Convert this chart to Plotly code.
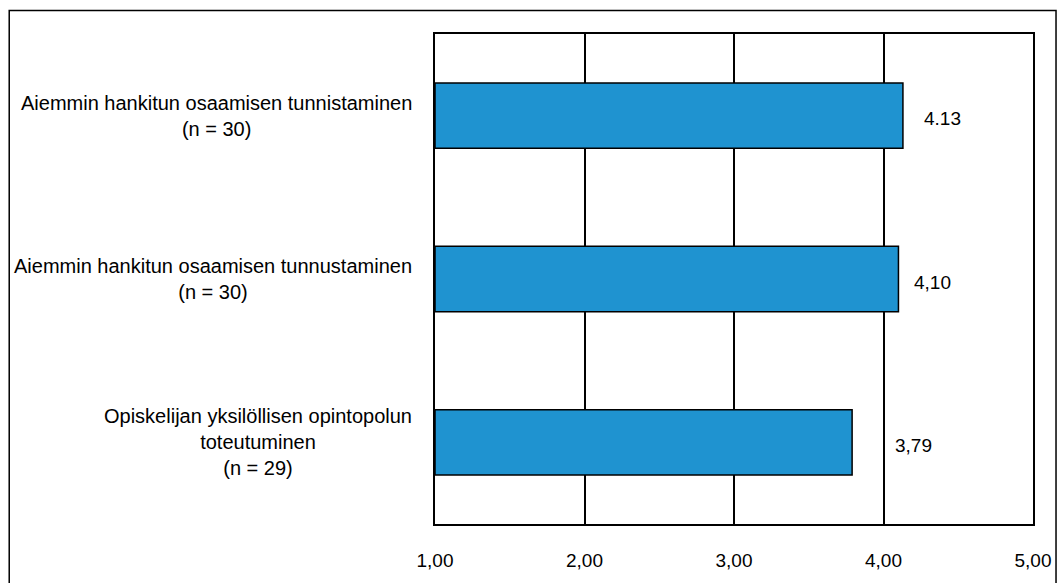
import plotly.graph_objects as go

# Survey items (top to bottom) and their mean scores
categories = [
    "Aiemmin hankitun osaamisen tunnistaminen<br>(n = 30)",
    "Aiemmin hankitun osaamisen tunnustaminen<br>(n = 30)",
    "Opiskelijan yksilöllisen opintopolun<br>toteutuminen<br>(n = 29)",
]
means = [4.13, 4.10, 3.79]
value_labels = ["4.13", "4,10", "3,79"]
label_offsets = [19, 14, 41]  # pixel gap between bar end and its label

tick_vals = [1, 2, 3, 4, 5]
tick_text = ["1,00", "2,00", "3,00", "4,00", "5,00"]

FONT = "Liberation Sans, Arial, sans-serif"
keys = ["c0", "c1", "c2"]

fig = go.Figure(
    go.Bar(
        x=[m - 1 for m in means],
        base=1,
        y=keys,
        orientation="h",
        width=0.4,
        marker=dict(color="#1f93d0", line=dict(color="black", width=1.5)),
        hoverinfo="skip",
    )
)

annotations = []
for key, cat in zip(keys, categories):
    annotations.append(dict(
        x=0, xref="paper", y=key, yref="y",
        text=cat, showarrow=False, xanchor="right", yanchor="middle",
        align="center", xshift=-21,
        font=dict(family=FONT, size=20, color="black"),
    ))
for key, m, lab, off in zip(keys, means, value_labels, label_offsets):
    annotations.append(dict(
        x=m, xref="x", y=key, yref="y",
        text=lab, showarrow=False, xanchor="left", yanchor="middle",
        xshift=off, yshift=-3,
        font=dict(family=FONT, size=19, color="black"),
    ))

fig.update_layout(
    width=1064, height=583,
    margin=dict(l=435, r=31, t=34, b=47),
    paper_bgcolor="white", plot_bgcolor="white",
    showlegend=False,
    annotations=annotations,
    shapes=[dict(
        type="rect", xref="paper", yref="paper",
        x0=-0.712, x1=1.0385, y0=-0.3, y1=1.0478,
        line=dict(color="black", width=1.5), layer="below",
    )],
    xaxis=dict(
        range=[1, 5], tickvals=tick_vals, ticktext=tick_text,
        showgrid=True, gridcolor="black", gridwidth=1.5,
        showline=True, linecolor="black", linewidth=2, mirror=True,
        zeroline=False, ticks="", ticklabelstandoff=18,
        tickfont=dict(family=FONT, size=19, color="black"),
        fixedrange=True,
    ),
    yaxis=dict(
        categoryorder="array", categoryarray=keys, autorange="reversed",
        showticklabels=False, showgrid=False,
        showline=True, linecolor="black", linewidth=2, mirror=True,
        ticks="", fixedrange=True,
    ),
)

fig.write_html("out.html")
